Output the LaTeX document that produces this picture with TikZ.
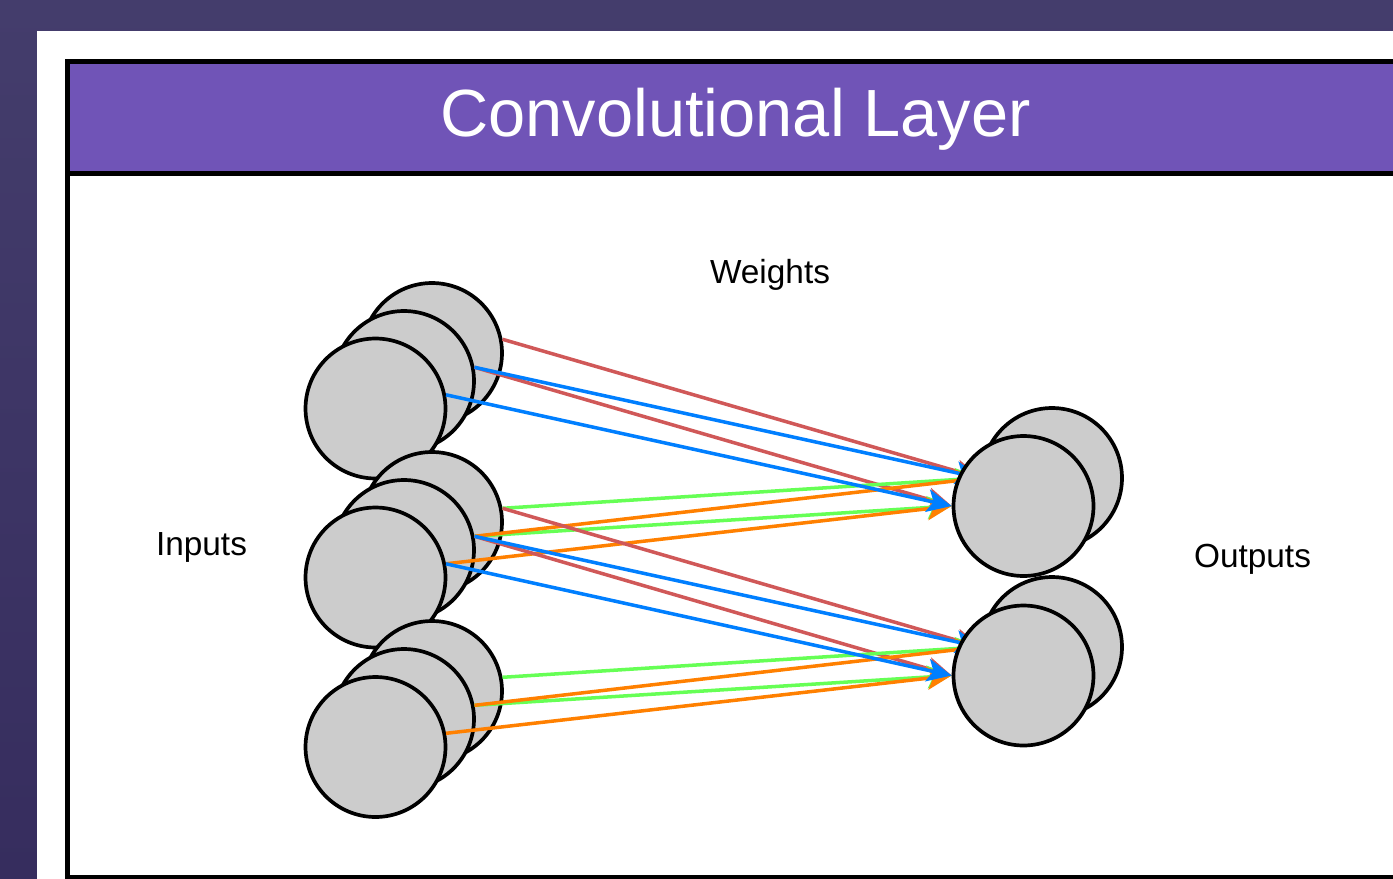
\documentclass[tikz,border=0pt]{standalone}
\usepackage{fontspec}
\setmainfont{Liberation Sans}
\usetikzlibrary{arrows.meta}
\definecolor{backdrop}{RGB}{68, 61, 108}
\definecolor{backdropdark}{RGB}{54, 45, 94}
\definecolor{titlebar}{RGB}{112, 84, 183}
\definecolor{cellgray}{RGB}{204, 204, 204}
\definecolor{wred}{RGB}{208, 88, 88}
\definecolor{wblue}{RGB}{0, 127, 255}
\definecolor{wgreen}{RGB}{102, 255, 85}
\definecolor{worange}{RGB}{255, 128, 0}
\pgfdeclarelayer{front}
\pgfsetlayers{main,front}

\begin{document}
\begin{tikzpicture}[x=0.02cm, y=-0.02cm,
  cell/.style={circle, draw=black, fill=cellgray, line width=2.1pt,
    minimum size=2.8cm, inner sep=0pt},
  weight/.style={line width=2pt, -{Stealth[length=14pt, width=13pt, inset=3.5pt]}},
  caption/.style={font=\fontsize{19}{22}\selectfont, anchor=base}]

  \useasboundingbox (0, 0) rectangle (1393, 879);

  \shade[top color=backdrop, bottom color=backdropdark] (0, 0) rectangle (1393, 879);
  \fill[white] (37, 31) rectangle (1393, 879);

  \fill[titlebar] (67.5, 61.5) rectangle (1393, 173.5);
  \draw[line width=2.3pt] (1393, 61.5) -- (67.5, 61.5) -- (67.5, 877) -- (1393, 877);
  \draw[line width=2.3pt] (67.5, 173.5) -- (1393, 173.5);

  \node[font=\fontsize{38}{40}\selectfont, text=white, anchor=base] (title)
    at (735.5, 136) {Convolutional Layer};

  \node[caption] (weights) at (770, 283) {Weights};
  \node[caption] (inputs) at (201.5, 555) {Inputs};
  \node[caption] (outputs) at (1252.5, 567) {Outputs};

  \node[cell] (in1b) at (432, 353) {};
  \node[cell] (in1m) at (404, 381) {};
  \node[cell] (in1f) at (375.5, 408.5) {};

  \node[cell] (in2b) at (432, 522) {};
  \node[cell] (in2m) at (404, 550) {};
  \node[cell] (in2f) at (375.5, 577.5) {};

  \node[cell] (in3b) at (432, 691) {};
  \node[cell] (in3m) at (404, 719) {};
  \node[cell] (in3f) at (375.5, 747) {};

  \begin{pgfonlayer}{front}
    \node[cell] (out1b) at (1052, 478) {};
    \node[cell] (out1f) at (1023.5, 506) {};
    \node[cell] (out2b) at (1052, 647) {};
    \node[cell] (out2f) at (1023.5, 675.5) {};
  \end{pgfonlayer}

  \draw[weight, wred] (in1b.11) -- (out1b.west);
  \draw[weight, wred] (in1m.11) -- (out1f.west);
  \draw[weight, wgreen] (in2b.11) -- (out1b.west);
  \draw[weight, wgreen] (in2m.11) -- (out1f.west);
  \draw[weight, worange] (in2m.11) -- (out1b.west);
  \draw[weight, worange] (in2f.11) -- (out1f.west);
  \draw[weight, wblue] (in1m.11) -- (out1b.west);
  \draw[weight, wblue] (in1f.11) -- (out1f.west);

  \draw[weight, wred] (in2b.11) -- (out2b.west);
  \draw[weight, wred] (in2m.11) -- (out2f.west);
  \draw[weight, wgreen] (in3b.11) -- (out2b.west);
  \draw[weight, wgreen] (in3m.11) -- (out2f.west);
  \draw[weight, worange] (in3m.11) -- (out2b.west);
  \draw[weight, worange] (in3f.11) -- (out2f.west);
  \draw[weight, wblue] (in2m.11) -- (out2b.west);
  \draw[weight, wblue] (in2f.11) -- (out2f.west);

\end{tikzpicture}
\end{document}
